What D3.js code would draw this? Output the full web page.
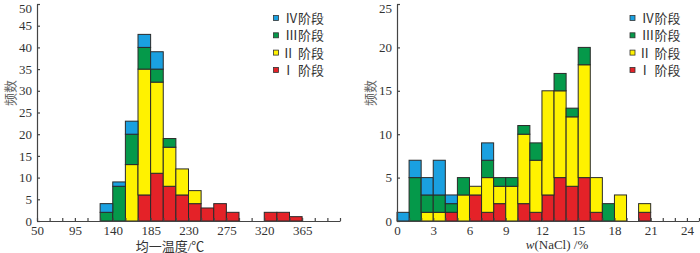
<!DOCTYPE html>
<meta charset="utf-8">
<script src="https://cdn.jsdelivr.net/npm/d3@7"></script>
<style>
  body { margin: 0; background: #fff; }
  text { font-family: "Liberation Serif", "Noto Sans CJK SC", serif; fill: #333; }
  .axis path, .axis line { stroke: #444; stroke-width: 1.2; }
</style>
<body>
<script>

// homogenisation temperature, bins of 15 degC (bin start)
var tempBins = [125, 140, 155, 170, 185, 200, 215, 230, 245, 260, 275, 290, 305, 320, 335, 350]
var tempI    = [0, 0, 0, 6, 11, 8, 6, 4, 3, 4, 2, 0, 0, 2, 2, 1]
var tempII   = [0, 0, 13, 29, 21, 9, 6, 3, 0, 0, 0, 0, 0, 0, 0, 0]
var tempIII  = [2, 8, 7, 5, 3, 2, 0, 0, 0, 0, 0, 0, 0, 0, 0, 0]
var tempIV   = [2, 1, 3, 3, 4, 0, 0, 0, 0, 0, 0, 0, 0, 0, 0, 0]

// salinity w(NaCl) %, bins of 1 (bin start)
var salBins = [0, 1, 2, 3, 4, 5, 6, 7, 8, 9, 10, 11, 12, 13, 14, 15, 16, 17, 18, 19, 20]
var salI    = [0, 0, 0, 0, 1, 0, 3, 1, 2, 0, 2, 1, 3, 5, 4, 5, 1, 0, 0, 0, 1]
var salII   = [0, 0, 1, 1, 0, 3, 1, 4, 2, 4, 8, 6, 12, 10, 8, 13, 4, 0, 3, 0, 1]
var salIII  = [0, 5, 2, 2, 1, 2, 0, 2, 1, 1, 1, 2, 0, 2, 1, 2, 0, 2, 0, 0, 0]
var salIV   = [1, 2, 2, 4, 1, 0, 0, 2, 0, 0, 0, 0, 0, 0, 0, 0, 0, 0, 0, 0, 0]

var tempTicks = [50, 95, 140, 185, 230, 275, 320, 365]
var salTicks = [0, 3, 6, 9, 12, 15, 18, 21, 24]

var stages = ["I", "II", "III", "IV"]
var stageNames = {IV: "Ⅳ阶段", III: "Ⅲ阶段", II: "Ⅱ 阶段", I: "Ⅰ 阶段"}
var colors = {I: "#e42228", II: "#fff200", III: "#05994a", IV: "#1aa0e0"}

var svg = d3.select("body").append("svg")
            .attr("width", 700)
            .attr("height", 253)

function histogram(o) {
  var x = d3.scaleLinear().domain(o.xDomain).range(o.xRange)
  var y = d3.scaleLinear().domain(o.yDomain).range([221, 4])

  var rows = o.bins.map(function(b, i) {
    return {bin: b, I: o.I[i], II: o.II[i], III: o.III[i], IV: o.IV[i]}
  })
  var series = d3.stack().keys(stages)(rows)

  var g = svg.append("g")
  g.selectAll("g.s").data(series).join("g")
    .attr("class", "s")
    .attr("fill", function(d) { return colors[d.key] })
    .selectAll("rect")
    .data(function(d) { return d.filter(function(e) { return e[1] > e[0] }) })
    .join("rect")
      .attr("x", function(d) { return x(d.data.bin) })
      .attr("width", function(d) { return x(d.data.bin + o.step) - x(d.data.bin) })
      .attr("y", function(d) { return y(d[1]) })
      .attr("height", function(d) { return y(d[0]) - y(d[1]) })
      .attr("stroke", "#2a2a2a")
      .attr("stroke-width", 1)

  var xTickVals = d3.range(o.xDomain[0], o.xDomain[1] + 0.001, o.step)
  g.append("g")
    .attr("class", "axis")
    .attr("transform", "translate(0,221)")
    .call(d3.axisBottom(x).tickValues(xTickVals).tickSize(-3).tickSizeOuter(0).tickPadding(5)
      .tickFormat(function(d) { return o.labels.indexOf(d) >= 0 ? d : "" }))
    .call(function(a) { a.selectAll("text").attr("font-size", 13).attr("font-family", null).attr("fill", "#333") })

  g.append("g")
    .attr("class", "axis")
    .attr("transform", "translate(" + o.xRange[0] + ",0)")
    .call(d3.axisLeft(y).ticks(o.yDomain[1] / 5).tickSize(-3).tickSizeOuter(0).tickPadding(5))
    .call(function(a) {
      a.selectAll("text").attr("font-size", 13).attr("font-family", null).attr("fill", "#333")
      // keep the top label inside the picture
      a.selectAll(".tick").filter(function(d) { return d === o.yDomain[1] })
        .select("text").attr("dy", "0.62em")
    })

  g.append("text")
    .attr("transform", "translate(" + o.yLabelX + ",93) rotate(-90)")
    .attr("text-anchor", "middle")
    .attr("dy", "0.35em")
    .attr("font-size", 13)
    .style("fill", "#666")
    .text("频数")

  o.xLabel(g.append("text")
    .attr("x", o.xLabelX)
    .attr("y", o.xLabelY)
    .attr("text-anchor", "middle")
    .attr("font-size", 13))

  var leg = g.append("g").attr("transform", "translate(" + o.legendX + ",18)")
  var items = ["IV", "III", "II", "I"]
  items.forEach(function(k, i) {
    leg.append("rect")
      .attr("x", -2.5).attr("y", i * 17.3 - 2.5)
      .attr("width", 5).attr("height", 5)
      .attr("fill", colors[k]).attr("stroke", "#333").attr("stroke-width", 0.8)
    leg.append("text")
      .attr("x", o.legendTextEnd).attr("y", i * 17.3)
      .attr("dy", "0.38em")
      .attr("text-anchor", "end")
      .attr("font-size", 13)
      .text(stageNames[k])
  })
}

histogram({
  bins: tempBins, I: tempI, II: tempII, III: tempIII, IV: tempIV,
  step: 15, xDomain: [50, 410], xRange: [37, 340], yDomain: [0, 50],
  labels: tempTicks, yLabelX: 10,
  xLabelX: 170, xLabelY: 251,
  xLabel: function(t) { t.text("均一温度/℃") },
  legendX: 276, legendTextEnd: 48
})

histogram({
  bins: salBins, I: salI, II: salII, III: salIII, IV: salIV,
  step: 1, xDomain: [0, 25], xRange: [397, 699], yDomain: [0, 25],
  labels: salTicks, yLabelX: 370,
  xLabelX: 557, xLabelY: 249,
  xLabel: function(t) {
    t.append("tspan").attr("font-style", "italic").text("w")
    t.append("tspan").text("(NaCl) /%")
  },
  legendX: 632.5, legendTextEnd: 48
})

</script>
</body>
